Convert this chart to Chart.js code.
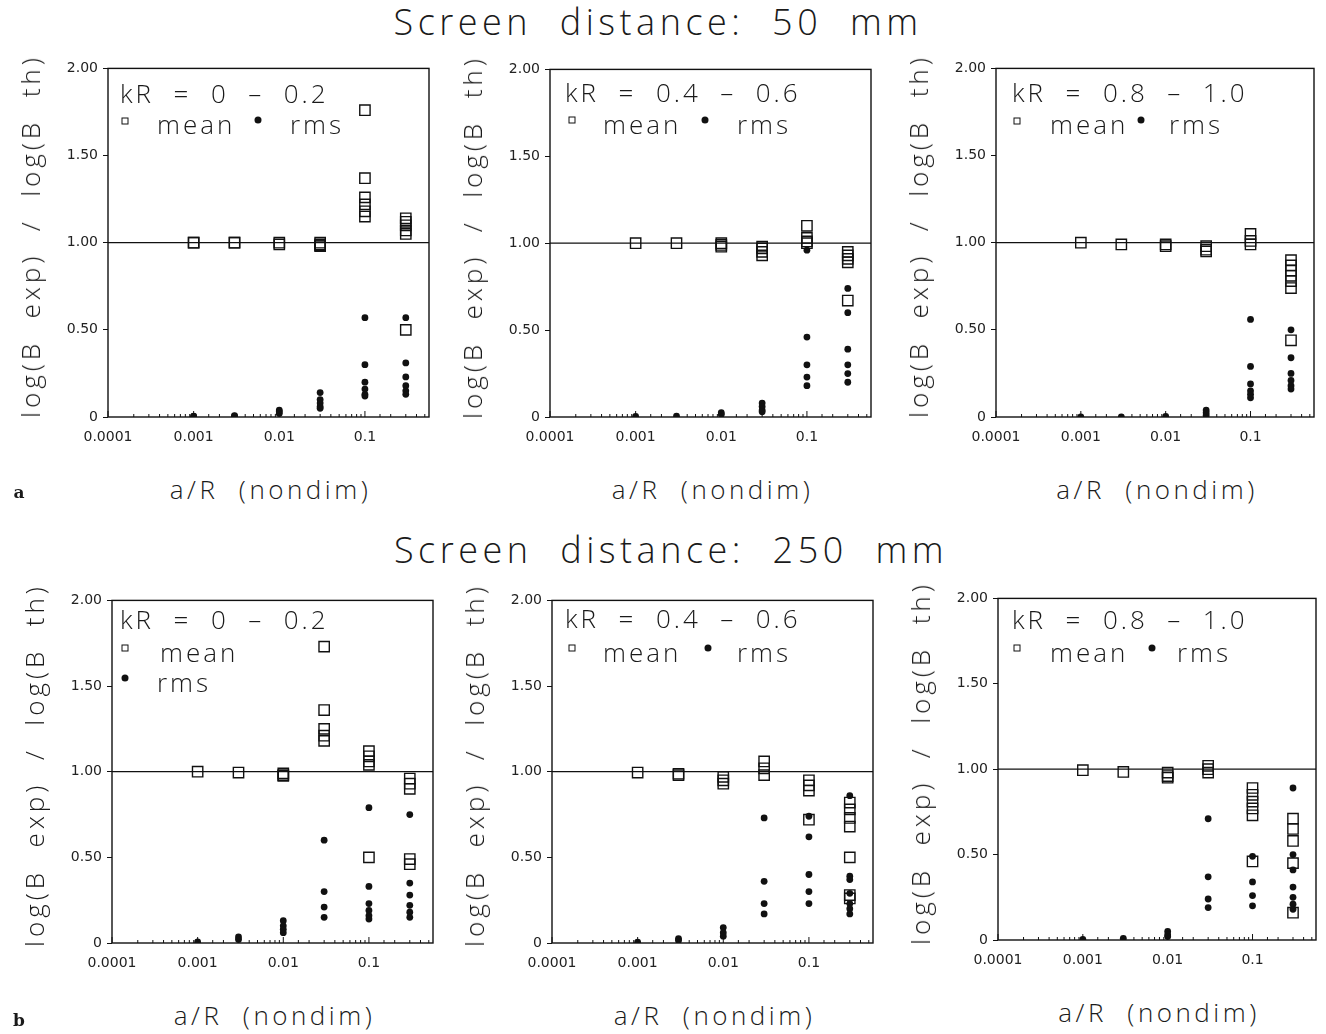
<!DOCTYPE html>
<html>
<head>
<meta charset="utf-8">
<script src="https://cdn.jsdelivr.net/npm/chart.js@4.4.0/dist/chart.umd.min.js"></script>
<style>
  body { margin: 0; background: #fff; }
  #page { position: relative; width: 1326px; height: 1034px; overflow: hidden;
          font-family: "Open Sans", "Liberation Sans", sans-serif; font-weight: 300; color: #1a1a1a; }
  canvas { position: absolute; }
  .txt { position: absolute; white-space: pre; line-height: 1; }
  .big { font-size: 36px; letter-spacing: 4.5px; transform: translate(-50%, -50%); }
  .ytitle { font-size: 26px; letter-spacing: 4px; transform: translate(-50%, -50%) rotate(-90deg); }
  .xtitle { font-size: 26px; letter-spacing: 3.5px; transform: translate(-50%, -50%); }
  .leg { font-size: 26px; letter-spacing: 3px; transform: translateY(-50%); }
  .sq { position: absolute; width: 5px; height: 5px; border: 1.5px solid #111; transform: translate(-50%, -50%); }
  .dot { position: absolute; width: 7px; height: 7px; border-radius: 50%; background: #111; transform: translate(-50%, -50%); }
  .tag { position: absolute; font-family: "DejaVu Serif", "Liberation Serif", serif; font-weight: bold;
         font-size: 17px; transform: translate(-50%, -50%); }
</style>
</head>
<body>
<div id="page"></div>
<script>
/* ======================
   DATA
====================== */
const xGroups = [0.001, 0.003, 0.01, 0.03, 0.1, 0.3];

// screen 50 mm
const mean50a = [[1.0, 1.0], [1.0, 1.0], [1.0, 0.99], [1.0, 0.99, 0.985, 0.98], [1.76, 1.37, 1.26, 1.22, 1.18, 1.15], [1.14, 1.12, 1.10, 1.07, 1.05, 0.50]];
const rms50a = [[0.005, 0.003], [0.008, 0.005], [0.04, 0.03, 0.02], [0.14, 0.10, 0.08, 0.06, 0.05], [0.57, 0.30, 0.20, 0.16, 0.13, 0.12], [0.57, 0.31, 0.23, 0.18, 0.15, 0.13]];

const mean50b = [[1.0], [1.0], [1.0, 0.99, 0.98], [0.98, 0.97, 0.95, 0.93], [1.10, 1.03, 1.01, 1.00], [0.95, 0.93, 0.91, 0.89, 0.67]];
const rms50b = [[0.003], [0.005], [0.025, 0.015], [0.08, 0.06, 0.04, 0.03], [0.96, 0.46, 0.30, 0.23, 0.18], [0.74, 0.60, 0.39, 0.30, 0.25, 0.20]];

const mean50c = [[1.0], [0.99], [0.99, 0.98], [0.98, 0.96, 0.95], [1.05, 1.01, 0.99], [0.90, 0.87, 0.84, 0.81, 0.78, 0.74, 0.44]];
const rms50c = [[0.0], [0.0], [0.003], [0.04, 0.025, 0.01], [0.56, 0.29, 0.19, 0.15, 0.13, 0.11], [0.50, 0.34, 0.25, 0.21, 0.18, 0.16]];

// screen 250 mm
const mean250a = [[1.0], [0.995], [0.99, 0.98, 0.975], [1.73, 1.36, 1.25, 1.21, 1.18], [1.12, 1.09, 1.06, 1.04, 0.50], [0.96, 0.93, 0.90, 0.49, 0.46]];
const rms250a = [[0.006], [0.035, 0.02], [0.13, 0.10, 0.08, 0.06], [0.60, 0.30, 0.21, 0.15], [0.79, 0.33, 0.23, 0.19, 0.16, 0.14], [0.75, 0.35, 0.28, 0.22, 0.18, 0.15]];

const mean250b = [[0.995], [0.988, 0.98], [0.97, 0.95, 0.93], [1.06, 1.02, 0.98], [0.95, 0.92, 0.89, 0.72], [0.82, 0.78, 0.73, 0.68, 0.50, 0.28, 0.26]];
const rms250b = [[0.005], [0.025, 0.015], [0.09, 0.06, 0.04], [0.73, 0.36, 0.23, 0.17], [0.74, 0.62, 0.40, 0.30, 0.23], [0.86, 0.39, 0.37, 0.29, 0.23, 0.20, 0.17]];

const mean250c = [[0.994], [0.984], [0.98, 0.96, 0.95], [1.02, 1.0, 0.98], [0.89, 0.85, 0.81, 0.77, 0.73, 0.46], [0.71, 0.65, 0.58, 0.45, 0.16]];
const rms250c = [[0.004], [0.01], [0.05, 0.03, 0.02], [0.71, 0.37, 0.24, 0.19], [0.49, 0.34, 0.26, 0.20], [0.89, 0.50, 0.41, 0.31, 0.25, 0.21, 0.18]];

const yTicks = [0, 0.5, 1.0, 1.5, 2.0];
const xMin = 0.0001;
const xMax = 0.56;
const refLine = 1.0;

const kRLabels = ["kR  =  0  –  0.2", "kR  =  0.4  –  0.6", "kR  =  0.8  –  1.0"];

/* ======================
   LAYOUT (plot boxes)
====================== */
const panels = [
  { means: mean50a, rms: rms50a, kr: 0, L: 108, R: 433, T: 67, B: 417, leg: [[120, 93], [125, 121], [157, 124], [258, 120], [290, 124]] },
  { means: mean50b, rms: rms50b, kr: 1, L: 550, R: 875, T: 68, B: 417, leg: [[565, 92], [572, 120], [603, 124], [705, 120], [737, 124]] },
  { means: mean50c, rms: rms50c, kr: 2, L: 996, R: 1318, T: 67, B: 417, leg: [[1012, 92], [1017, 121], [1050, 124], [1141, 120], [1169, 124]] },
  { means: mean250a, rms: rms250a, kr: 0, L: 112, R: 437, T: 599, B: 943, leg: [[120, 619], [125, 648], [160, 652], [125, 678], [157, 682]] },
  { means: mean250b, rms: rms250b, kr: 1, L: 552, R: 877, T: 599, B: 943, leg: [[565, 618], [572, 648], [603, 652], [708, 648], [737, 652]] },
  { means: mean250c, rms: rms250c, kr: 2, L: 998, R: 1320, T: 597, B: 940, leg: [[1012, 619], [1017, 648], [1050, 652], [1152, 648], [1177, 652]] },
];

const Y_AXIS_W = 108;
const X_AXIS_H = 40;
const PAD_T = 12;
const PAD_R = 8;
const tickFont = { family: "'DejaVu Sans', 'Liberation Sans', sans-serif", size: 14 };

const page = document.getElementById("page");

function addText(cls, text, x, y) {
  const d = document.createElement("div");
  d.className = "txt " + cls;
  d.textContent = text;
  d.style.left = x + "px";
  d.style.top = y + "px";
  page.appendChild(d);
  return d;
}

function addMark(cls, x, y) {
  const d = document.createElement("div");
  d.className = cls;
  d.style.left = x + "px";
  d.style.top = y + "px";
  page.appendChild(d);
}

function toPoints(groups) {
  return groups.flatMap((vals, i) => vals.map((v) => ({ x: xGroups[i], y: v })));
}

function isDecade(v) {
  const l = Math.log10(v);
  return Math.abs(l - Math.round(l)) < 1e-6;
}

/* ======================
   FRAME + MINOR TICKS
====================== */
const framePlugin = {
  id: "frame",
  afterDatasetsDraw(chart) {
    const { ctx, chartArea: a } = chart;
    const x = chart.scales.x;
    ctx.save();
    ctx.strokeStyle = "#111";
    ctx.lineWidth = 1.4;
    ctx.strokeRect(a.left, a.top, a.right - a.left, a.bottom - a.top);
    ctx.lineWidth = 1;
    x.ticks.forEach((t) => {
      if (t.value >= xMax) return;
      const px = x.getPixelForValue(t.value);
      const len = isDecade(t.value) ? 6 : 3;
      ctx.beginPath();
      ctx.moveTo(px, a.bottom);
      ctx.lineTo(px, a.bottom - len);
      ctx.stroke();
    });
    ctx.restore();
  },
};

/* ======================
   PANELS
====================== */
function makePanel(p) {
  const canvas = document.createElement("canvas");
  const w = Y_AXIS_W + (p.R - p.L) + PAD_R;
  const h = PAD_T + (p.B - p.T) + X_AXIS_H;
  canvas.width = w;
  canvas.height = h;
  canvas.style.left = p.L - Y_AXIS_W + "px";
  canvas.style.top = p.T - PAD_T + "px";
  page.appendChild(canvas);

  new Chart(canvas, {
    type: "scatter",
    data: {
      datasets: [
        {
          data: toPoints(p.means),
          pointStyle: "rect",
          pointRadius: 7.3,
          borderColor: "#111",
          backgroundColor: "rgba(0,0,0,0)",
          borderWidth: 1.4,
        },
        {
          data: toPoints(p.rms),
          pointStyle: "circle",
          pointRadius: 3.4,
          backgroundColor: "#111",
          borderWidth: 0,
        },
        {
          type: "line",
          data: [{ x: xMin, y: refLine }, { x: xMax, y: refLine }],
          borderColor: "#111",
          borderWidth: 1.3,
          pointRadius: 0,
        },
      ],
    },
    options: {
      responsive: false,
      animation: false,
      events: [],
      layout: { padding: { top: PAD_T, right: PAD_R, left: 0, bottom: 0 } },
      plugins: { legend: { display: false }, tooltip: { enabled: false } },
      scales: {
        x: {
          type: "logarithmic",
          min: xMin,
          max: xMax,
          grid: { display: false, drawTicks: false },
          border: { display: false },
          ticks: {
            autoSkip: false,
            maxRotation: 0,
            padding: 12,
            color: "#222",
            font: tickFont,
            callback: (v) => (isDecade(v) && v <= 0.1 ? String(Number(v.toPrecision(1))) : ""),
          },
          afterFit: (s) => { s.height = X_AXIS_H; },
        },
        y: {
          min: 0,
          max: 2,
          afterBuildTicks: (s) => { s.ticks = yTicks.map((v) => ({ value: v })); },
          grid: { drawOnChartArea: false, drawTicks: true, tickLength: 5, color: "#111" },
          border: { display: false },
          ticks: {
            padding: 5,
            color: "#222",
            font: tickFont,
            callback: (v) => (v === 0 ? "0" : v.toFixed(2)),
          },
          afterFit: (s) => { s.width = Y_AXIS_W; },
        },
      },
    },
    plugins: [framePlugin],
  });

  // axis titles
  addText("ytitle", "log(B  exp)  /  log(B  th)", p.L - 78, (p.T + p.B) / 2 - 6);
  addText("xtitle", "a/R  (nondim)", (p.L + p.R) / 2, p.B + 72);

  // in-plot legend
  const lg = p.leg;
  addText("leg", kRLabels[p.kr], lg[0][0], lg[0][1]);
  addMark("sq", lg[1][0], lg[1][1]);
  addText("leg", "mean", lg[2][0], lg[2][1]);
  addMark("dot", lg[3][0], lg[3][1]);
  addText("leg", "rms", lg[4][0], lg[4][1]);
}

panels.forEach(makePanel);

addText("big", "Screen  distance:  50  mm", 658, 22);
addText("big", "Screen  distance:  250  mm", 671, 550);
addText("tag", "a", 19, 492);
addText("tag", "b", 19, 1020);
</script>
</body>
</html>
